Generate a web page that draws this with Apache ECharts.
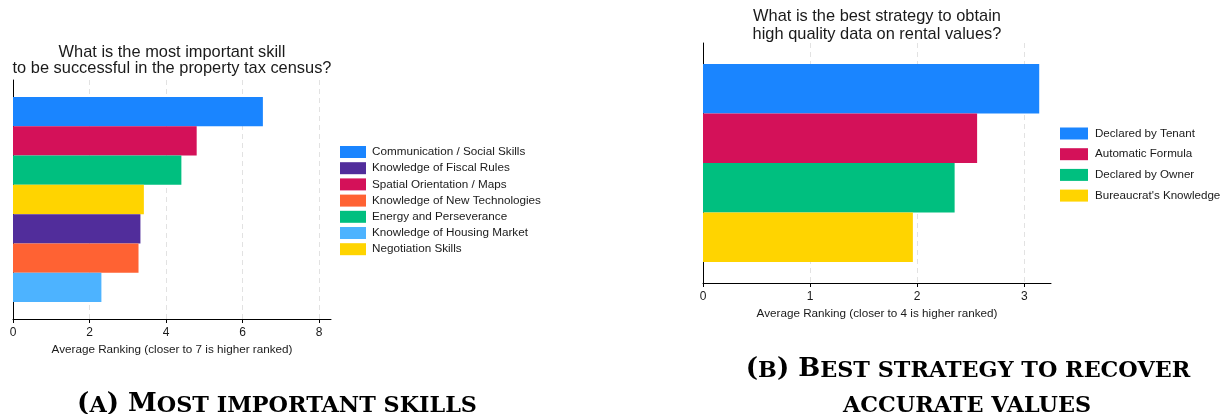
<!DOCTYPE html>
<html>
<head>
<meta charset="utf-8">
<script src="https://cdn.jsdelivr.net/npm/echarts@6/dist/echarts.min.js"></script>
<style>
html,body{margin:0;padding:0;background:#fff;}
#chart{width:1227px;height:414px;}
</style>
</head>
<body>
<div id="chart"></div>
<script>
// ---- Data ----
const leftCategories = ['Communication / Social Skills', 'Spatial Orientation / Maps', 'Energy and Perseverance', 'Negotiation Skills', 'Knowledge of Fiscal Rules', 'Knowledge of New Technologies', 'Knowledge of Housing Market'];
const leftValues = [6.53, 4.80, 4.40, 3.42, 3.33, 3.28, 2.31];
const leftLegendOrder = ['Communication / Social Skills', 'Knowledge of Fiscal Rules', 'Spatial Orientation / Maps', 'Knowledge of New Technologies', 'Energy and Perseverance', 'Knowledge of Housing Market', 'Negotiation Skills'];
const leftTicks = [0, 2, 4, 6, 8];

const rightCategories = ['Declared by Tenant', 'Automatic Formula', 'Declared by Owner', "Bureaucrat's Knowledge"];
const rightValues = [3.14, 2.56, 2.35, 1.96];
const rightTicks = [0, 1, 2, 3];

const leftTitle = 'What is the most important skill\nto be successful in the property tax census?';
const rightTitle = 'What is the best strategy to obtain\nhigh quality data on rental values?';
const leftAxisName = 'Average Ranking (closer to 7 is higher ranked)';
const rightAxisName = 'Average Ranking (closer to 4 is higher ranked)';

// ---- Styles ----
const colorMap = {
  'Communication / Social Skills': '#1A85FF',
  'Spatial Orientation / Maps': '#D41159',
  'Energy and Perseverance': '#00BF7F',
  'Negotiation Skills': '#FFD400',
  'Knowledge of Fiscal Rules': '#512D9B',
  'Knowledge of New Technologies': '#FF6233',
  'Knowledge of Housing Market': '#4DB3FF',
  'Declared by Tenant': '#1A85FF',
  'Automatic Formula': '#D41159',
  'Declared by Owner': '#00BF7F',
  "Bureaucrat's Knowledge": '#FFD400'
};
const SANS = '"Liberation Sans", Arial, Helvetica, sans-serif';
const SERIF = '"DejaVu Serif", serif';
const TXT = '#1a1a1a';

function makeXAxis(gridIndex, max, interval, ticks, name) {
  return {
    type: 'value', gridIndex: gridIndex, min: 0, max: max, interval: interval,
    name: name, nameLocation: 'middle', nameGap: 23,
    nameTextStyle: { fontFamily: SANS, fontSize: 11.7, color: TXT },
    axisLine: { show: true, onZero: false, lineStyle: { color: '#000', width: 1 } },
    axisTick: { show: true, length: 4, lineStyle: { color: '#000' }, customValues: ticks },
    axisLabel: { fontFamily: SANS, fontSize: 12, color: TXT, margin: 8, customValues: ticks },
    splitLine: { show: true, showMinLine: false, lineStyle: { color: '#e2e2e2', type: [5, 4], width: 1 } }
  };
}
function makeYAxis(gridIndex) {
  return {
    type: 'category', gridIndex: gridIndex, data: [''], inverse: true,
    axisLine: { show: true, lineStyle: { color: '#000', width: 1 } },
    axisTick: { show: false }, axisLabel: { show: false }, splitLine: { show: false }
  };
}

const series = [];
leftCategories.forEach((c, i) => {
  series.push({
    type: 'bar', name: c, xAxisIndex: 0, yAxisIndex: 0,
    data: [leftValues[i]], barGap: '0%', barCategoryGap: '14.3%',
    itemStyle: { color: colorMap[c] }, emphasis: { disabled: true }
  });
});
rightCategories.forEach((c, i) => {
  series.push({
    type: 'bar', name: c, xAxisIndex: 1, yAxisIndex: 1,
    data: [rightValues[i]], barGap: '0%', barCategoryGap: '17.6%',
    itemStyle: { color: colorMap[c] }, emphasis: { disabled: true }
  });
});

const captionRich = {
  b: { fontFamily: SERIF, fontWeight: 'bold', fontSize: 26, color: '#000', verticalAlign: 'bottom', lineHeight: 31 },
  s: { fontFamily: SERIF, fontWeight: 'bold', fontSize: 22.3, color: '#000', verticalAlign: 'bottom', lineHeight: 31 }
};

const option = {
  animation: false,
  backgroundColor: '#fff',
  grid: [
    { left: 13, top: 80, width: 318, height: 239, containLabel: false },
    { left: 703, top: 43, width: 348, height: 240, containLabel: false }
  ],
  xAxis: [
    makeXAxis(0, 8.31, 2, leftTicks, leftAxisName),
    makeXAxis(1, 3.25, 1, rightTicks, rightAxisName)
  ],
  yAxis: [makeYAxis(0), makeYAxis(1)],
  legend: [
    {
      data: leftLegendOrder, orient: 'vertical', left: 340, top: 146,
      icon: 'rect', itemWidth: 26, itemHeight: 12, itemGap: 4.2,
      textStyle: { fontFamily: SANS, fontSize: 11.7, color: TXT, lineHeight: 12, padding: [0, 0, 0, 1] },
      selectedMode: false, padding: 0
    },
    {
      data: rightCategories, orient: 'vertical', left: 1060, top: 127.5,
      icon: 'rect', itemWidth: 28, itemHeight: 12, itemGap: 8.7,
      textStyle: { fontFamily: SANS, fontSize: 11.6, color: TXT, lineHeight: 12, padding: [0, 0, 0, 2] },
      selectedMode: false, padding: 0
    }
  ],
  graphic: [
    { type: 'text', x: 172, y: 60.5, style: { text: leftTitle, fontFamily: SANS, fontSize: 16.4, lineHeight: 16.5, fill: TXT, align: 'center', verticalAlign: 'middle' } },
    { type: 'text', x: 877, y: 25.5, style: { text: rightTitle, fontFamily: SANS, fontSize: 16.4, lineHeight: 17.3, fill: TXT, align: 'center', verticalAlign: 'middle' } },
    { type: 'text', x: 277, y: 417, style: { text: '{b|(}{s|A}{b|) M}{s|OST IMPORTANT SKILLS}', rich: captionRich, align: 'center', verticalAlign: 'bottom' } },
    { type: 'text', x: 968, y: 382, style: { text: '{b|(}{s|B}{b|) B}{s|EST STRATEGY TO RECOVER}', rich: captionRich, align: 'center', verticalAlign: 'bottom' } },
    { type: 'text', x: 967, y: 417, style: { text: '{s|ACCURATE VALUES}', rich: captionRich, align: 'center', verticalAlign: 'bottom' } }
  ],
  series: series
};

const chart = echarts.init(document.getElementById('chart'), null, { renderer: 'canvas' });
chart.setOption(option);
</script>
</body>
</html>
